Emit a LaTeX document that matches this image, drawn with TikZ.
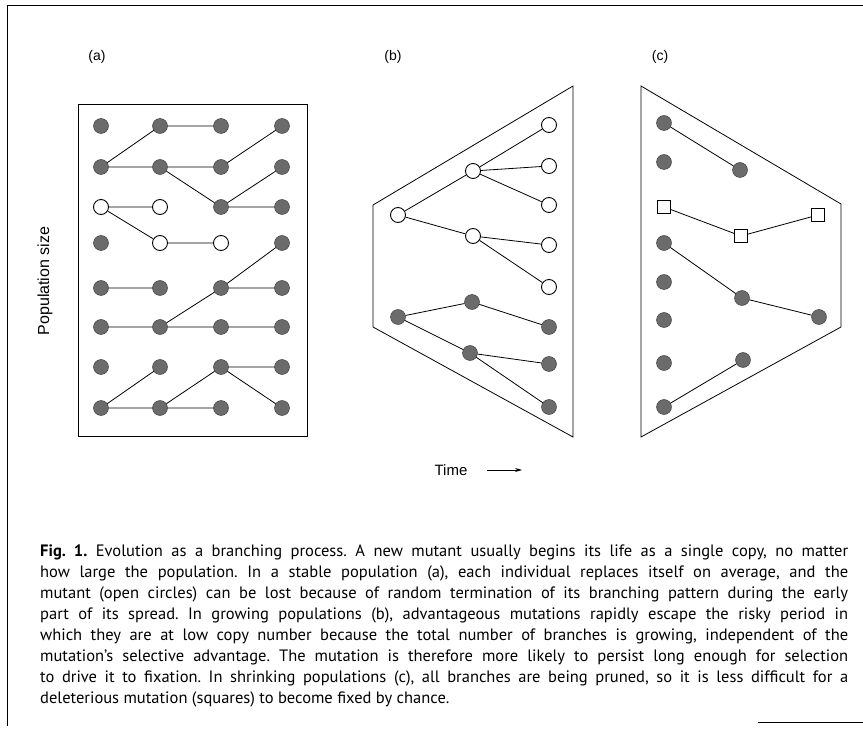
\documentclass[tikz,border=0pt]{standalone}
\usepackage{fontspec}
\setmainfont{Liberation Sans}
\newfontfamily\capfont{PT Sans}
\usetikzlibrary{arrows.meta}
\newcommand\capline[1]{\makebox[808pt][s]{#1}}

\begin{document}
\begin{tikzpicture}[x=1pt,y=-1pt,
  live/.style={circle,draw=black!80,fill=black!58,minimum size=15pt,inner sep=0pt},
  mut/.style={circle,draw=black,fill=white,line width=0.9pt,minimum size=15pt,inner sep=0pt},
  del/.style={rectangle,draw=black,fill=white,line width=0.9pt,minimum size=13pt,inner sep=0pt},
  branch/.style={line width=0.8pt},
  hull/.style={line width=0.8pt},
  lbl/.style={font=\fontsize{14}{16}\selectfont}]
  \useasboundingbox (0,0) rectangle (863,730);
  \draw[hull] (7,726)--(7,5)--(863,5); \draw[hull] (758,722)--(863,722);
  \node[lbl] (la) at (97,57) {(a)}; \node[lbl] (lb) at (393,57) {(b)}; \node[lbl] (lc) at (660,57) {(c)};
  \node[rotate=90,font=\fontsize{16}{18}\selectfont] (size) at (45,281) {Population size};

  % (a) stable population
  \draw[hull] (78,104) rectangle (307,436);
  \foreach \r/\y/\ka/\kb/\kc/\kd in {1/126/live/live/live/live,2/167/live/live/live/live,
      3/207/mut/mut/live/live,4/243/live/mut/mut/live,5/288/live/live/live/live,
      6/327/live/live/live/live,7/367/live/live/live/live,8/408/live/live/live/live}{
    \node[\ka] (a\r1) at (101,\y) {}; \node[\kb] (a\r2) at (160,\y) {};
    \node[\kc] (a\r3) at (221,\y) {}; \node[\kd] (a\r4) at (282,\y) {};
  }
  \draw[branch] (a21)--(a12) (a12)--(a13) (a21)--(a22) (a22)--(a23) (a23)--(a14)
    (a22)--(a33) (a33)--(a24) (a33)--(a34);
  \draw[branch] (a31)--(a32) (a31)--(a42) (a42)--(a43);
  \draw[branch] (a51)--(a52) (a61)--(a62) (a62)--(a63) (a63)--(a64) (a62)--(a53) (a53)--(a44) (a53)--(a54);
  \draw[branch] (a81)--(a72) (a81)--(a82) (a82)--(a83) (a82)--(a73) (a73)--(a74) (a73)--(a84);

  % (b) growing population
  \draw[hull] (373,205)--(573,86)--(573,437)--(373,327)--cycle;
  \node[mut] (b0) at (398,215) {}; \node[mut] (b1) at (473,171) {}; \node[mut] (b2) at (473,236) {};
  \foreach \n/\y in {b11/125,b12/166,b13/205,b21/245,b22/287} \node[mut] (\n) at (549,\y) {};
  \node[live] (b3) at (398,317) {}; \node[live] (b4) at (472,302) {}; \node[live] (b5) at (470,353) {};
  \foreach \n/\y in {b41/327,b51/364,b52/407} \node[live] (\n) at (549,\y) {};
  \draw[branch] (b0)--(b1) (b0)--(b2) (b1)--(b11) (b1)--(b12) (b1)--(b13) (b2)--(b21) (b2)--(b22);
  \draw[branch] (b3)--(b4) (b3)--(b5) (b4)--(b41) (b5)--(b51) (b5)--(b52);

  % (c) shrinking population
  \draw[hull] (641,86)--(841,204)--(841,327)--(641,437)--cycle;
  \foreach \n/\y in {c1/123,c2/162,c4/243,c5/282,c6/320,c7/363,c8/407} \node[live] (\n) at (664,\y) {};
  \node[del] (c3) at (664,207) {};
  \node[live] (d1) at (740,170) {}; \node[del] (d2) at (741,236) {};
  \node[live] (d3) at (742,298) {}; \node[live] (d4) at (743,360) {};
  \node[del] (e1) at (818,215) {}; \node[live] (e2) at (819,317) {};
  \draw[branch] (c1)--(d1) (c3)--(d2) (d2)--(e1) (c4)--(d3) (d3)--(e2) (c8)--(d4);

  \node[font=\fontsize{15}{17}\selectfont] (time) at (451,470) {Time};
  \coordinate (tail) at (487,470); \coordinate (head) at (522,470);
  \draw[-{Stealth[length=7pt,width=4pt]},line width=0.8pt] (tail)--(head);

  \node[anchor=north west,inner sep=0pt,align=left,font=\capfont\fontsize{16.5}{21}\selectfont\frenchspacing] (cap) at (40,545) {%
    \capline{\textbf{Fig. 1.} Evolution as a branching process. A new mutant usually begins its life as a single copy, no matter}\\
    \capline{how large the population. In a stable population (a), each individual replaces itself on average, and the}\\
    \capline{mutant (open circles) can be lost because of random termination of its branching pattern during the early}\\
    \capline{part of its spread. In growing populations (b), advantageous mutations rapidly escape the risky period in}\\
    \capline{which they are at low copy number because the total number of branches is growing, independent of the}\\
    \capline{mutation’s selective advantage. The mutation is therefore more likely to persist long enough for selection}\\
    \capline{to drive it to fixation. In shrinking populations (c), all branches are being pruned, so it is less difficult for a}\\
    deleterious mutation (squares) to become fixed by chance.};
\end{tikzpicture}
\end{document}
